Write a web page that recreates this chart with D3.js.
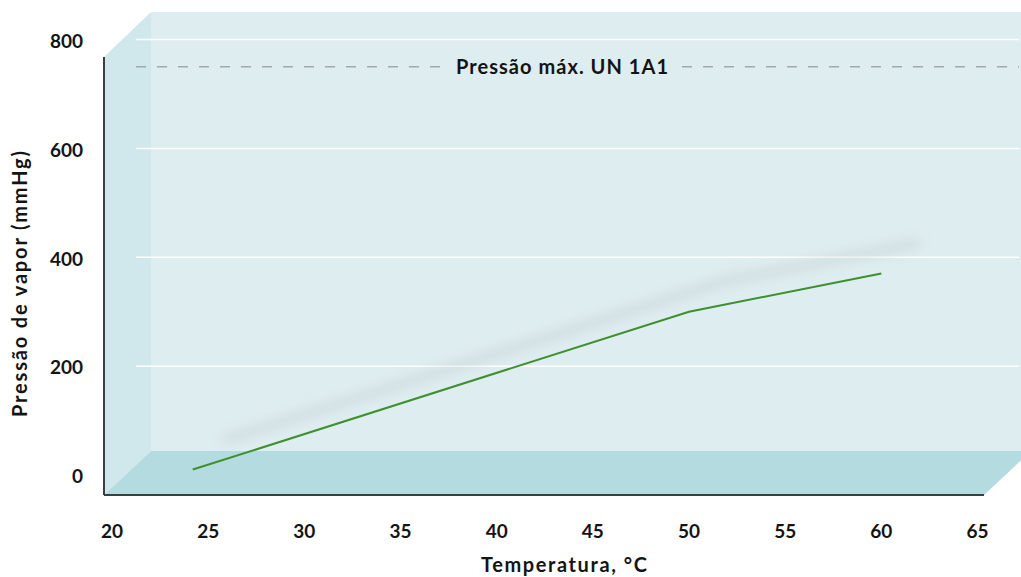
<!DOCTYPE html>
<html>
<head>
<meta charset="utf-8">
<script src="https://cdn.jsdelivr.net/npm/d3@7"></script>
<style>
  html, body { margin: 0; padding: 0; background: #ffffff; }
  svg { display: block; }
  text { font-family: "Lato", "Open Sans", sans-serif; font-weight: 700; fill: #141414; }
</style>
</head>
<body>
<svg id="chart" width="1021" height="577"></svg>
<script>
// Vapour pressure vs temperature
const temperatures = [24.2, 50, 60];
const pressures = [10, 300, 370];
const xTicks = [20, 25, 30, 35, 40, 45, 50, 55, 60, 65];
const yTicks = [0, 200, 400, 600, 800];
const limitValue = 750;
const limitLabel = "Pressão máx. UN 1A1";
const xTitle = "Temperatura, °C";
const yTitle = "Pressão de vapor (mmHg)";

const svg = d3.select("#chart");

const x = d3.scaleLinear().domain([20, 65]).range([112, 977.5]);
const y = d3.scaleLinear().domain([0, 800]).range([475, 39.5]);

// box geometry (front corner and depth offset)
const front = { left: 104, bottom: 495, top: 57, right: 984 };
const depth = { dx: 47, dy: -44 };
const back = { left: front.left + depth.dx, bottom: front.bottom + depth.dy, top: 12, right: front.right + depth.dx };

const defs = svg.append("defs");
defs.append("filter").attr("id", "soft")
  .attr("x", "-20%").attr("y", "-50%").attr("width", "140%").attr("height", "200%")
  .append("feGaussianBlur").attr("stdDeviation", 6);

// back wall
svg.append("rect")
  .attr("x", back.left).attr("y", back.top)
  .attr("width", back.right - back.left).attr("height", back.bottom - back.top)
  .attr("fill", "#deedf0");

// left wall
svg.append("path")
  .attr("d", `M${front.left},${front.top} L${back.left},${back.top} L${back.left},${back.bottom} L${front.left},${front.bottom} Z`)
  .attr("fill", "#d0e7eb");

// grid lines
svg.append("g").selectAll("line")
  .data(yTicks.filter(d => d > 0))
  .join("line")
  .attr("x1", 136).attr("x2", 1019)
  .attr("y1", d => y(d)).attr("y2", d => y(d))
  .attr("stroke", "#ffffff").attr("stroke-width", 1.5);

// limit line
svg.append("line")
  .attr("x1", 136).attr("x2", 1019)
  .attr("y1", y(limitValue)).attr("y2", y(limitValue))
  .attr("stroke", "#a3a7a8").attr("stroke-width", 1.4)
  .attr("stroke-dasharray", "10,11");

const lbl = svg.append("g");
const lblText = lbl.append("text")
  .attr("x", 562).attr("y", y(limitValue))
  .attr("dy", "0.36em")
  .attr("text-anchor", "middle")
  .attr("font-size", 20)
  .attr("textLength", 212)
  .attr("lengthAdjust", "spacing")
  .text(limitLabel);
const bb = lblText.node().getBBox();
lbl.insert("rect", "text")
  .attr("x", bb.x - 12).attr("y", bb.y)
  .attr("width", bb.width + 24).attr("height", bb.height)
  .attr("fill", "#deedf0");

// floor
svg.append("path")
  .attr("d", `M${front.left},${front.bottom} L${back.left},${back.bottom} L${back.right},${back.bottom} L${front.right},${front.bottom} Z`)
  .attr("fill", "#b3dbe0");

const pts = temperatures.map((t, i) => [t, pressures[i]]);
const line = d3.line().x(d => x(d[0])).y(d => y(d[1]));

// soft shadow cast on the back wall
svg.append("path")
  .datum(pts)
  .attr("d", line)
  .attr("transform", "translate(34,-30)")
  .attr("fill", "none")
  .attr("stroke", "#9aa6a8")
  .attr("stroke-opacity", 0.22)
  .attr("stroke-width", 10)
  .attr("stroke-linecap", "round")
  .attr("filter", "url(#soft)");

svg.append("path")
  .datum(pts)
  .attr("d", line)
  .attr("fill", "none")
  .attr("stroke", "#3f8f2c")
  .attr("stroke-width", 2);

// axes lines
svg.append("line")
  .attr("x1", front.left).attr("x2", front.left)
  .attr("y1", front.top).attr("y2", front.bottom)
  .attr("stroke", "#3b3f40").attr("stroke-width", 2);
svg.append("line")
  .attr("x1", front.left).attr("x2", front.right)
  .attr("y1", front.bottom).attr("y2", front.bottom)
  .attr("stroke", "#3b3f40").attr("stroke-width", 2);

// tick labels
svg.append("g").selectAll("text")
  .data(yTicks)
  .join("text")
  .attr("x", 83).attr("y", d => y(d) + 1.5)
  .attr("dy", "0.36em")
  .attr("text-anchor", "end")
  .attr("font-size", 19)
  .text(d => d);

svg.append("g").selectAll("text")
  .data(xTicks)
  .join("text")
  .attr("x", d => x(d)).attr("y", 531)
  .attr("dy", "0.36em")
  .attr("text-anchor", "middle")
  .attr("font-size", 19)
  .text(d => d);

// axis titles
svg.append("text")
  .attr("x", 564).attr("y", 565)
  .attr("dy", "0.36em")
  .attr("text-anchor", "middle")
  .attr("font-size", 20)
  .attr("textLength", 166)
  .attr("lengthAdjust", "spacing")
  .text(xTitle);

svg.append("text")
  .attr("transform", "translate(20,284) rotate(-90)")
  .attr("dy", "0.36em")
  .attr("text-anchor", "middle")
  .attr("font-size", 20)
  .attr("textLength", 266)
  .attr("lengthAdjust", "spacing")
  .text(yTitle);
</script>
</body>
</html>
